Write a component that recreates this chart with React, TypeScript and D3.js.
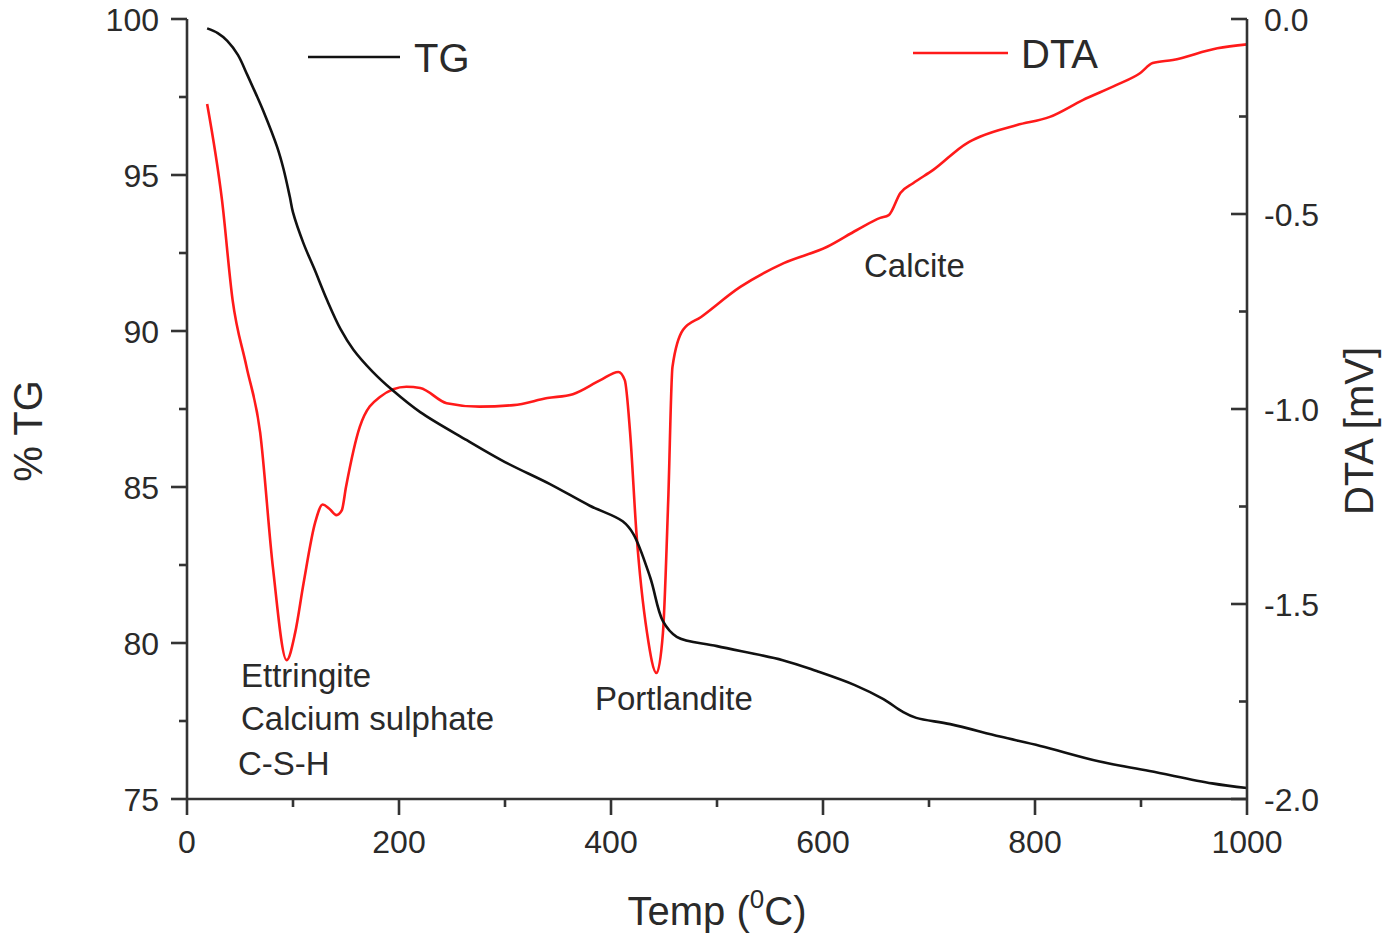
import React from "react";
import * as d3 from "d3";

// TG curve (% mass)
const tgTemp = [19, 29, 38, 48, 57, 65, 72, 85, 91, 97, 100, 110, 120, 132, 145, 157, 175, 194, 220, 264, 300, 342, 380, 411, 421, 437, 449, 462, 500, 562, 594, 630, 657, 675, 688, 720, 767, 805, 861, 908, 967, 1000];
const tgValue = [99.7, 99.55, 99.3, 98.85, 98.2, 97.6, 97.05, 95.9, 95.2, 94.3, 93.8, 92.8, 92.0, 91.0, 90.05, 89.4, 88.7, 88.1, 87.4, 86.5, 85.8, 85.1, 84.4, 83.9, 83.5, 82.1, 80.7, 80.2, 79.9, 79.45, 79.1, 78.65, 78.2, 77.8, 77.6, 77.4, 77.0, 76.7, 76.2, 75.9, 75.5, 75.35];

// DTA curve (mV)
const dtaTemp = [19, 33, 43, 56, 69, 81, 94, 102, 110, 121, 128, 134, 141, 146, 150, 163, 182, 207, 220, 245, 276, 308, 340, 364, 390, 407, 413, 418, 424, 434, 443, 449, 454, 458, 468, 485, 522, 563, 604, 632, 654, 662, 673, 685, 704, 736, 748, 783, 814, 845, 877, 899, 911, 930, 972, 1000];
const dtaValue = [-0.218, -0.464, -0.72, -0.89, -1.06, -1.405, -1.644, -1.574, -1.446, -1.29, -1.245, -1.255, -1.272, -1.26, -1.2, -1.046, -0.969, -0.943, -0.946, -0.985, -0.994, -0.99, -0.972, -0.962, -0.926, -0.905, -0.926, -1.06, -1.318, -1.574, -1.677, -1.574, -1.233, -0.892, -0.797, -0.764, -0.687, -0.626, -0.584, -0.541, -0.51, -0.503, -0.446, -0.421, -0.387, -0.318, -0.302, -0.272, -0.251, -0.208, -0.169, -0.139, -0.113, -0.105, -0.075, -0.065];

const xTicks = [0, 200, 400, 600, 800, 1000];
const xMinor = [100, 300, 500, 700, 900];
const tgTicks = [75, 80, 85, 90, 95, 100];
const tgMinor = [77.5, 82.5, 87.5, 92.5, 97.5];
const dtaTicks = [0, -0.5, -1.0, -1.5, -2.0];
const dtaMinor = [-0.25, -0.75, -1.25, -1.75];

const annotations = [
    { text: "Ettringite", x: 241, y: 687 },
    { text: "Calcium sulphate", x: 241, y: 730 },
    { text: "C-S-H", x: 238, y: 775 },
    { text: "Portlandite", x: 595, y: 710 },
    { text: "Calcite", x: 864, y: 277 },
];

const FONT = "'Liberation Sans', Arial, Helvetica, sans-serif";
const INK = "#2a2a2a";
const AXIS = "#333";

export default function App() {
    const width = 1384;
    const height = 935;
    const left = 187, right = 1247, top = 19, bottom = 799;

    const x = d3.scaleLinear().domain([0, 1000]).range([left, right]);
    const yTG = d3.scaleLinear().domain([75, 100]).range([bottom, top]);
    const yDTA = d3.scaleLinear().domain([-2, 0]).range([bottom, top]);

    const tgLine = d3.line<number>().x((_, i) => x(tgTemp[i])).y((d) => yTG(d)).curve(d3.curveCatmullRom.alpha(0.5));
    const dtaLine = d3.line<number>().x((_, i) => x(dtaTemp[i])).y((d) => yDTA(d)).curve(d3.curveMonotoneX);

    return (
        <svg width={width} height={height} style={{ position: "absolute", left: 0, top: 0, display: "block", background: "#fff" }} fontFamily={FONT}>
            {/* curves */}
            <path d={dtaLine(dtaValue) as string} fill="none" stroke="#ff1a1a" strokeWidth={2.6} strokeLinejoin="round" />
            <path d={tgLine(tgValue) as string} fill="none" stroke="#111" strokeWidth={2.6} strokeLinejoin="round" />

            {/* axes */}
            <g stroke={AXIS} strokeWidth={2.6} fill="none">
                <line x1={left} y1={top} x2={left} y2={bottom} />
                <line x1={left - 1} y1={bottom} x2={right + 1} y2={bottom} />
                <line x1={right} y1={top} x2={right} y2={bottom} />
                {xTicks.map((t) => <line key={"xt" + t} x1={x(t)} x2={x(t)} y1={bottom} y2={bottom + 16} />)}
                {xMinor.map((t) => <line key={"xm" + t} x1={x(t)} x2={x(t)} y1={bottom} y2={bottom + 8} />)}
                {tgTicks.map((t) => <line key={"lt" + t} x1={left - 16} x2={left} y1={yTG(t)} y2={yTG(t)} />)}
                {tgMinor.map((t) => <line key={"lm" + t} x1={left - 8} x2={left} y1={yTG(t)} y2={yTG(t)} />)}
                {dtaTicks.map((t) => <line key={"rt" + t} x1={right - 16} x2={right} y1={yDTA(t)} y2={yDTA(t)} />)}
                {dtaMinor.map((t) => <line key={"rm" + t} x1={right - 8} x2={right} y1={yDTA(t)} y2={yDTA(t)} />)}
            </g>

            {/* tick labels */}
            <g fill={INK} fontSize={32}>
                {xTicks.map((t) => (
                    <text key={"xl" + t} x={x(t)} y={bottom + 54} textAnchor="middle">{t}</text>
                ))}
                {tgTicks.map((t) => (
                    <text key={"ll" + t} x={left - 28} y={yTG(t)} dy="0.36em" textAnchor="end">{t}</text>
                ))}
                {dtaTicks.map((t) => (
                    <text key={"rl" + t} x={right + 17} y={yDTA(t)} dy="0.36em" textAnchor="start">{d3.format(".1f")(t).replace("−", "-")}</text>
                ))}
            </g>

            {/* axis titles */}
            <g fill={INK} fontSize={40}>
                <text x={717} y={925} textAnchor="middle">
                    Temp (<tspan fontSize={26} dy={-17}>0</tspan><tspan dy={17}>C)</tspan>
                </text>
                <text transform={`translate(42, 431) rotate(-90)`} textAnchor="middle">% TG</text>
                <text transform={`translate(1373, 431) rotate(-90)`} textAnchor="middle">DTA [mV]</text>
            </g>

            {/* legend */}
            <line x1={308} x2={400} y1={57} y2={57} stroke="#111" strokeWidth={2.6} />
            <text x={414} y={72} fontSize={40} fill={INK}>TG</text>
            <line x1={913} x2={1008} y1={53} y2={53} stroke="#ff1a1a" strokeWidth={2.6} />
            <text x={1021} y={68} fontSize={40} fill={INK}>DTA</text>

            {/* annotations */}
            <g fill={INK} fontSize={33}>
                {annotations.map((a) => (
                    <text key={a.text} x={a.x} y={a.y}>{a.text}</text>
                ))}
            </g>
        </svg>
    );
}
